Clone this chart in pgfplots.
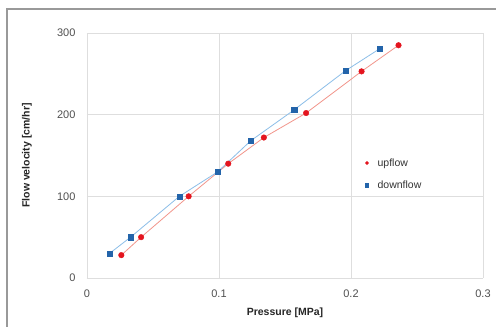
\documentclass[border=0pt]{standalone}
\usepackage{pgfplots}
\pgfplotsset{compat=1.18}
\usepackage{fontspec}
\setmainfont{Liberation Sans}
\definecolor{upred}{RGB}{228,20,30}
\definecolor{upline}{RGB}{242,150,140}
\definecolor{downblue}{RGB}{35,100,170}
\definecolor{downline}{RGB}{140,190,232}
\definecolor{gridc}{RGB}{222,222,222}
\definecolor{tickc}{RGB}{80,80,80}
\begin{document}
\begin{tikzpicture}
\useasboundingbox (0,0) rectangle (496pt,327pt);
\fill[white] (0,0) rectangle (496pt,327pt);
\draw[gray!80, line width=1.5pt] (7pt,0) -- (7pt,318pt) -- (496pt,318pt);
\begin{axis}[
  at={(87pt,49pt)}, anchor=south west,
  scale only axis, width=396pt, height=245pt,
  xmin=0, xmax=0.3, ymin=0, ymax=300,
  xtick={0,0.1,0.2,0.3}, ytick={0,100,200,300},
  xticklabels={0,0.1,0.2,0.3},
  major tick length=0pt,
  grid=major, major grid style={gridc, line width=0.6pt},
  axis x line*=bottom, axis y line*=left,
  axis line style={gridc, line width=0.6pt},
  /pgf/number format/assume math mode=true,
  tick label style={font=\fontsize{11}{13}\selectfont, text=tickc},
  yticklabel style={xshift=-8pt},
  xticklabel style={yshift=-8pt},
  xlabel={Pressure [MPa]}, ylabel={Flow velocity [cm/hr]},
  label style={font=\fontsize{10.5}{12}\selectfont\bfseries, text=black!85},
  xlabel style={at={(axis description cs:0.5,-0.143)}, anchor=center},
  ylabel style={at={(axis description cs:-0.152,0.5)}, anchor=center},
  legend style={at={(axis description cs:0.695,0.505)}, anchor=north west, draw=none, fill=none,
    font=\fontsize{10.5}{12}\selectfont, text=black!80, row sep=9pt},
  legend cell align=left,
  clip=false,
]
\addplot[upline, line width=0.8pt, forget plot] coordinates {
(0.026,28) (0.041,50) (0.077,100) (0.107,140) (0.134,172) (0.166,202) (0.208,253) (0.236,285)};
\addplot[downline, line width=0.8pt, forget plot] coordinates {
(0.017,30) (0.033,50) (0.070,100) (0.099,130) (0.124,168) (0.157,206) (0.196,254) (0.222,281)};
\addplot[only marks, mark=*, mark size=2.8pt, color=upred, mark options={fill=upred, draw=upred}, legend image post style={mark size=1.6pt}] coordinates {
(0.026,28) (0.041,50) (0.077,100) (0.107,140) (0.134,172) (0.166,202) (0.208,253) (0.236,285)};
\addlegendentry{\hspace{7pt}upflow}
\addplot[only marks, mark=square*, mark size=2.6pt, color=downblue, mark options={fill=downblue, draw=downblue}, legend image post style={mark size=1.6pt}] coordinates {
(0.017,30) (0.033,50) (0.070,100) (0.099,130) (0.124,168) (0.157,206) (0.196,254) (0.222,281)};
\addlegendentry{\hspace{7pt}downflow}
\end{axis}
\end{tikzpicture}
\end{document}
